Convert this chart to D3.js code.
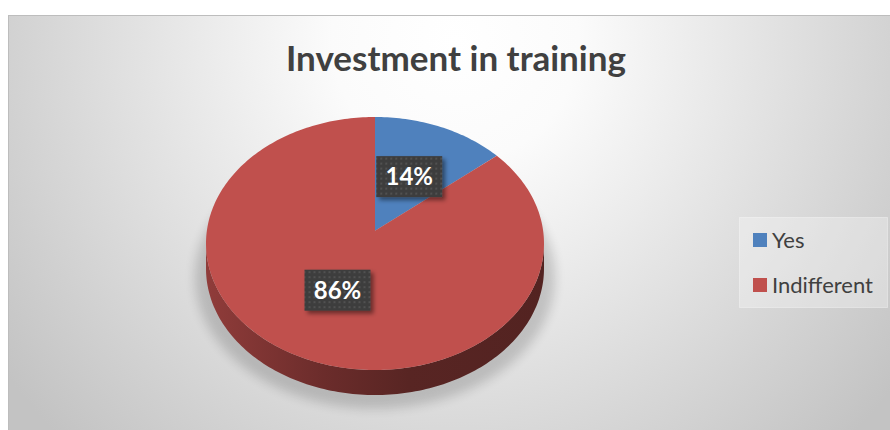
<!DOCTYPE html>
<html lang="en">
<head>
<meta charset="UTF-8">
<title>Investment in training</title>
<script src="https://d3js.org/d3.v7.min.js"></script>
<style>
  body { margin: 0; background: #fff; }
  text { font-family: Lato, "Open Sans", sans-serif; }
</style>
</head>
<body>
<script>
var title = "Investment in training";
var categories = ["Yes", "Indifferent"];
var values = [14, 86];
var colors = ["#4F81BD", "#C0504D"];

var width = 890, height = 430;
// 3d pie geometry (top face centre, radii, side depth, perspective factor)
var cx = 375, cy = 243.5, rx = 169, ry = 126.5, depth = 25, k = -0.1;
var kc = Math.sqrt(1 - k * k);

var svg = d3.select("body").append("svg")
    .attr("width", width)
    .attr("height", height);

var defs = svg.append("defs");

var bg = defs.append("radialGradient")
    .attr("id", "bg")
    .attr("gradientUnits", "userSpaceOnUse")
    .attr("cx", 455).attr("cy", 40).attr("r", 560);
bg.append("stop").attr("offset", 0).attr("stop-color", "#ffffff");
bg.append("stop").attr("offset", 0.22).attr("stop-color", "#fbfbfb");
bg.append("stop").attr("offset", 1).attr("stop-color", "#c3c3c3");

var blur = defs.append("filter").attr("id", "blur")
    .attr("x", "-20%").attr("y", "-20%").attr("width", "140%").attr("height", "140%");
blur.append("feGaussianBlur").attr("stdDeviation", 5);

var drop = defs.append("filter").attr("id", "drop")
    .attr("x", "-20%").attr("y", "-20%").attr("width", "150%").attr("height", "160%");
drop.append("feDropShadow").attr("dx", 3).attr("dy", 3).attr("stdDeviation", 2)
    .attr("flood-color", "#000").attr("flood-opacity", 0.45);

var dots = defs.append("pattern").attr("id", "dots")
    .attr("patternUnits", "userSpaceOnUse")
    .attr("width", 5).attr("height", 5);
dots.append("rect").attr("width", 5).attr("height", 5).attr("fill", "#3d3d3d");
dots.append("rect").attr("x", 1).attr("y", 1).attr("width", 2).attr("height", 2).attr("fill", "#515151");

// chart area
svg.append("rect")
    .attr("x", 8.5).attr("y", 15.5)
    .attr("width", width).attr("height", height)
    .attr("fill", "url(#bg)")
    .attr("stroke", "#bdbdbd");

svg.append("text")
    .attr("x", 456).attr("y", 71)
    .attr("text-anchor", "middle")
    .attr("font-size", 35)
    .attr("font-weight", "bold")
    .attr("fill", "#404040")
    .text(title);

var data = categories.map(function(c, i) {
    return { name: c, value: values[i], color: colors[i] };
});
var pie = d3.pie().sort(null).value(function(d) { return d.value; });
var arcs = pie(data);

var xs = d3.scaleLinear().domain([-1, 1]).range([cx - rx, cx + rx]);
var ys = d3.scaleLinear().domain([-1, 1]).range([cy - ry, cy + ry]);

// angle a clockwise from 12 o'clock, r in unit radius, dy = drop for the base
function proj(a, r, dy) {
    var u = r * Math.sin(a), v = -r * Math.cos(a);
    var w = 1 + k * v;
    return [xs(kc * u / w), ys((v + k) / w) + (dy || 0)];
}

function arcPoints(a0, a1, dy) {
    var n = Math.max(2, Math.ceil(Math.abs(a1 - a0) / 0.02));
    return d3.range(n + 1).map(function(i) { return proj(a0 + (a1 - a0) * i / n, 1, dy); });
}

var line = d3.line();

// shadow under the pie
svg.append("path")
    .attr("d", line(arcPoints(0, 2 * Math.PI, depth + 8)) + "Z")
    .attr("transform", "translate(" + cx + "," + (cy + 20) + ") scale(1.065,1.04) translate(" + (-cx) + "," + (-cy - 20) + ")")
    .attr("fill", "#000")
    .attr("opacity", 0.16)
    .attr("filter", "url(#blur)");

// visible front side
var front0 = Math.acos(k), front1 = 2 * Math.PI - Math.acos(k);

arcs.forEach(function(d, i) {
    var s = Math.max(d.startAngle, front0), e = Math.min(d.endAngle, front1);
    if (e <= s) return;
    var gid = "side" + i;
    var base = d3.color(d.data.color);
    var g = defs.append("linearGradient").attr("id", gid)
        .attr("gradientUnits", "userSpaceOnUse")
        .attr("x1", cx - rx).attr("x2", cx + rx).attr("y1", 0).attr("y2", 0);
    g.append("stop").attr("offset", 0).attr("stop-color", base.darker(0.8));
    g.append("stop").attr("offset", 0.35).attr("stop-color", base.darker(1.65));
    g.append("stop").attr("offset", 0.6).attr("stop-color", base.darker(2.2));
    g.append("stop").attr("offset", 1).attr("stop-color", base.darker(2.35));
    var pts = arcPoints(s, e, 0).concat(arcPoints(e, s, depth));
    svg.append("path")
        .attr("d", line(pts) + "Z")
        .attr("fill", "url(#" + gid + ")");
});

// top faces
svg.append("g").selectAll("path")
    .data(arcs)
    .enter().append("path")
    .attr("d", function(d) {
        return line([proj(0, 0)].concat(arcPoints(d.startAngle, d.endAngle, 0))) + "Z";
    })
    .attr("fill", function(d) { return d.data.color; });

// data labels
var total = d3.sum(values);
var labels = svg.append("g").selectAll("g")
    .data(arcs)
    .enter().append("g")
    .attr("transform", function(d) {
        var p = proj((d.startAngle + d.endAngle) / 2, 0.5);
        return "translate(" + p[0] + "," + p[1] + ")";
    });

labels.append("rect")
    .attr("x", -33).attr("y", -20.5)
    .attr("width", 66).attr("height", 41)
    .attr("fill", "url(#dots)")
    .attr("filter", "url(#drop)");

labels.append("text")
    .attr("text-anchor", "middle")
    .attr("y", 8.5)
    .attr("font-size", 24)
    .attr("font-weight", "bold")
    .attr("fill", "#ffffff")
    .text(function(d) { return Math.round(d.data.value / total * 100) + "%"; });

// legend
svg.append("rect")
    .attr("x", 739.5).attr("y", 217.5)
    .attr("width", 148).attr("height", 90)
    .attr("fill", "#ffffff").attr("fill-opacity", 0.3)
    .attr("stroke", "#ffffff").attr("stroke-opacity", 0.35);

var ly = d3.scalePoint().domain(categories).range([240, 285]);

var items = svg.append("g").selectAll("g")
    .data(data)
    .enter().append("g")
    .attr("transform", function(d) { return "translate(753," + ly(d.name) + ")"; });

items.append("rect")
    .attr("y", -7).attr("width", 14).attr("height", 14)
    .attr("fill", function(d) { return d.color; });

items.append("text")
    .attr("x", 19).attr("y", 7.5)
    .attr("font-size", 22)
    .attr("fill", "#404040")
    .text(function(d) { return d.name; });
</script>
</body>
</html>
